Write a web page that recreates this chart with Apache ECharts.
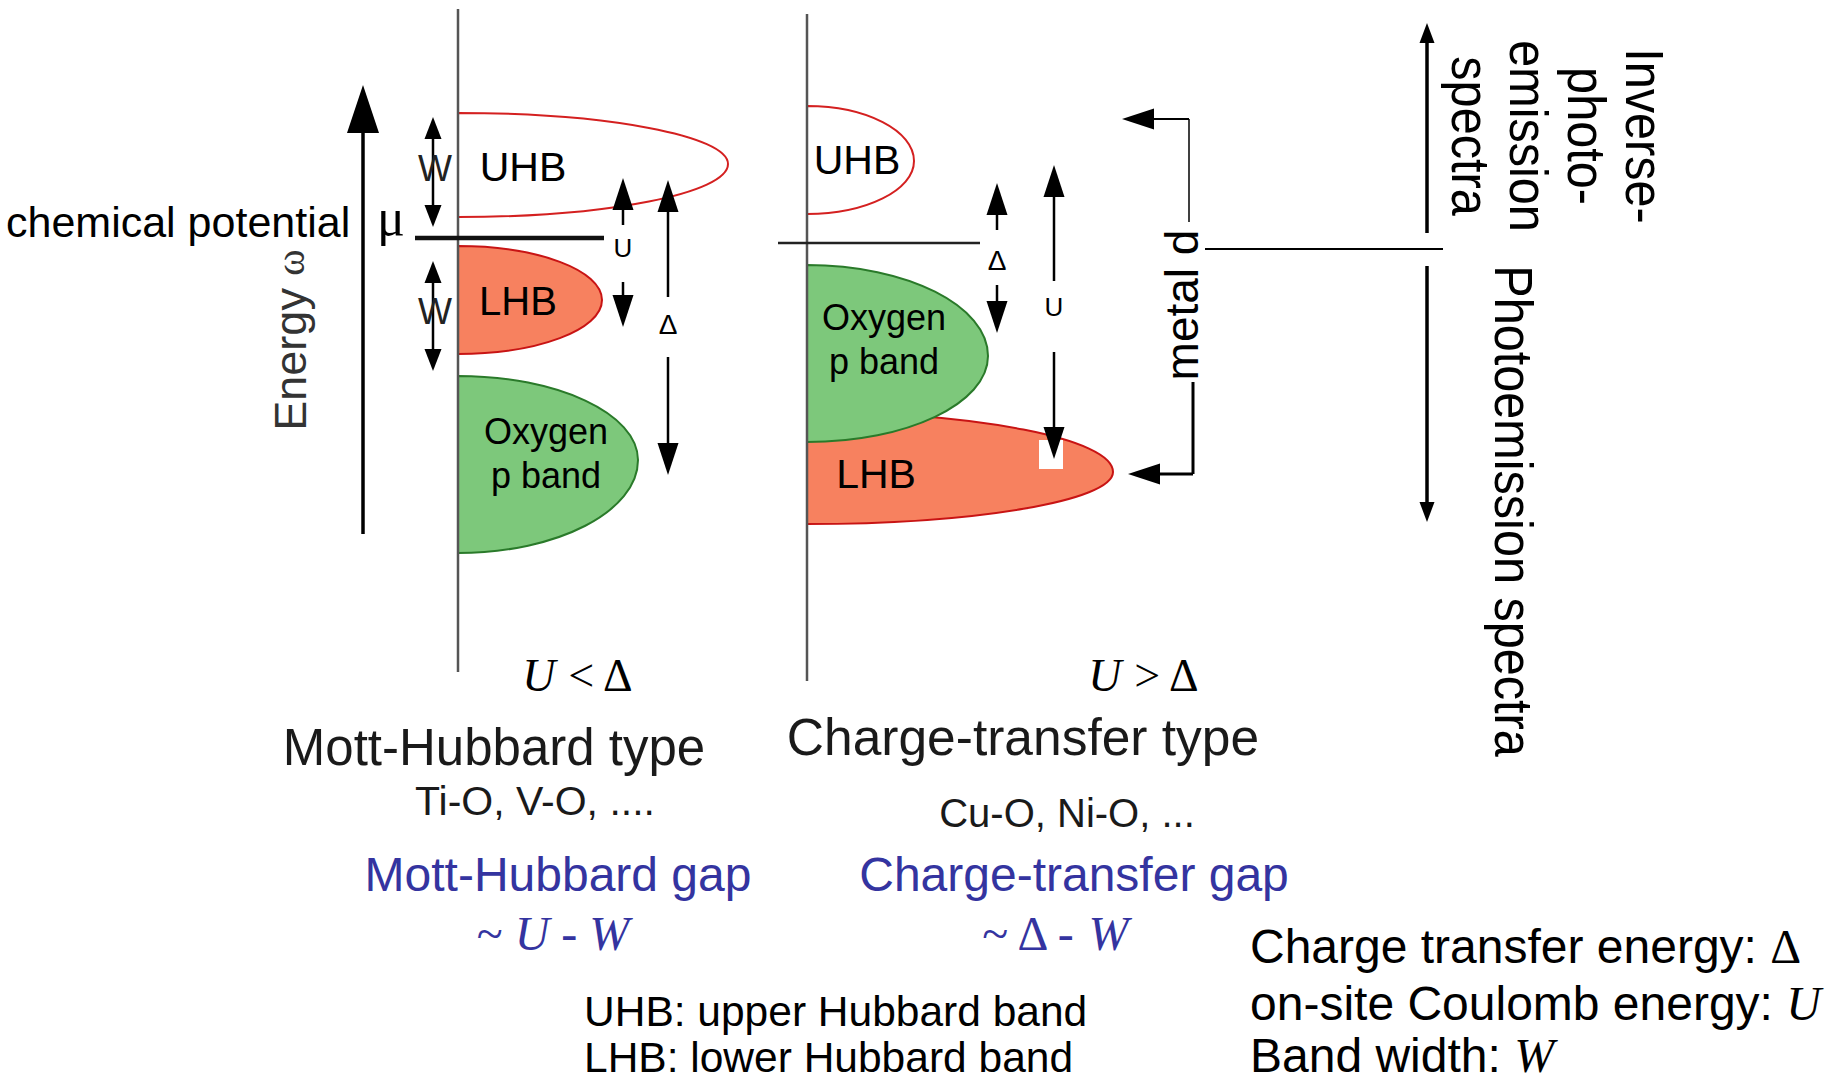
<!DOCTYPE html>
<html><head><meta charset="utf-8">
<script src="https://cdn.jsdelivr.net/npm/echarts@6/dist/echarts.min.js"></script>
<style>html,body{margin:0;padding:0;background:#fff}#c{width:1840px;height:1081px}</style>
</head><body><div id="c"></div>
<script>
// ================= DATA (diagram plane: x = extent, y = energy level, page scale) =================
const panelAxes = [[458, 9, 458, 672], [807, 14, 807, 681]];
const chemPotentialLevels = [[415, 238, 604, 238], [778, 243, 980, 243]];
const bandNames  = ['UHB', 'LHB', 'Oxygen\np band', 'UHB', 'LHB', 'Oxygen\np band'];
const bandKinds  = ['upper', 'lower', 'oxygen', 'upper', 'lower', 'oxygen'];
const bandBase   = [458, 458, 458, 807, 807, 807];
const bandTop    = [113, 246, 376, 106, 412, 265];
const bandBottom = [217, 354, 553, 214, 524, 442];
const bandExtent = [728, 602, 638, 914, 1113, 988];
const bandPeak   = [164, 300, 460, 161, 472, 356];
const energyAxisArrow = [[363, 534, 363, 85]];
const bandWidthArrows = [[433, 117, 433, 227], [433, 261, 433, 371]];
const gapArrows = [
  [623, 225, 623, 178], [623, 282, 623, 327],
  [668, 297, 668, 180], [668, 357, 668, 475],
  [997, 230, 997, 183], [997, 285, 997, 333],
  [1054, 281, 1054, 165], [1054, 352, 1054, 459]
];
const gapSymbols = ['U', 'Δ', 'Δ', 'U'];
const metalDArrowTop = [[1189, 119, 1122, 119]];
const metalDArrowBottom = [[1193, 474, 1128, 474]];
const metalDBracketTop = [[1189, 119, 1189, 222]];
const metalDBracketBottom = [[1193, 382, 1193, 474]];
const spectraArrows = [[1427, 233, 1427, 23], [1427, 266, 1427, 522]];
const spectraDivider = [[1205, 249, 1443, 249]];
const maskPatch = [[1039, 440, 1063, 469]];
const typeTitles = ['Mott-Hubbard type', 'Charge-transfer type'];
const typeExamples = ['Ti-O, V-O, ....', 'Cu-O, Ni-O, ...'];
const gapTitles = ['Mott-Hubbard gap', 'Charge-transfer gap'];
const gapFormulas = ['~ {i|U} - {i|W}', '~ Δ - {i|W}'];
const conditions = ['{i|U} < Δ', '{i|U} > Δ'];
const glossary = ['UHB: upper Hubbard band', 'LHB: lower Hubbard band'];
const definitions = ['Charge transfer energy: {s|Δ}', 'on-site Coulomb energy: {i|U}', 'Band width: {i|W}'];

// ================= STYLE / LAYOUT =================
const SANS = "'Liberation Sans', Arial, sans-serif";
const SERIF = "'Liberation Serif', 'Times New Roman', serif";
const BLUE = '#3434a0';
const bandStyle = {
  upper:  { fill: '#ffffff', stroke: '#d42020', lineWidth: 2 },
  lower:  { fill: '#f7815f', stroke: '#c81414', lineWidth: 2 },
  oxygen: { fill: '#7dc87b', stroke: '#2a7a2a', lineWidth: 2 }
};

function serifRich(size, color) {
  return {
    i: { fontFamily: SERIF, fontStyle: 'italic', fontSize: size, fill: color },
    s: { fontFamily: SERIF, fontSize: size, fill: color }
  };
}

const labels = [
  { t: 'chemical potential', x: 6, y: 222, size: 43, align: 'left' },
  { t: 'μ', x: 391, y: 217, size: 52, family: SERIF },
  { t: 'Energy {w|ω}', x: 290, y: 340, size: 45, rot: Math.PI / 2, color: '#333',
    rich: { w: { fontFamily: SERIF, fontSize: 40, fill: '#333' } } },
  { t: bandNames[0], x: 523, y: 167, size: 41 },
  { t: bandNames[1], x: 518, y: 301, size: 40 },
  { t: bandNames[2], x: 546, y: 453, size: 36, lh: 44 },
  { t: bandNames[3], x: 857, y: 160, size: 41 },
  { t: bandNames[4], x: 876, y: 474, size: 41 },
  { t: bandNames[5], x: 884, y: 339, size: 36, lh: 44 },
  { t: 'W', x: 435, y: 168, size: 36, color: '#222' },
  { t: 'W', x: 435, y: 311, size: 36, color: '#222' },
  { t: gapSymbols[0], x: 623, y: 248, size: 26 },
  { t: gapSymbols[1], x: 668, y: 324, size: 28 },
  { t: gapSymbols[2], x: 997, y: 260, size: 28 },
  { t: gapSymbols[3], x: 1054, y: 307, size: 26 },
  { t: 'metal d', x: 1182, y: 305, size: 46, rot: Math.PI / 2 },
  { t: 'Inverse-\nphoto-\nemission\nspectra', x: 1558, y: 136, size: 54, lh: 58, rot: -Math.PI / 2, sx: 0.9 },
  { t: 'Photoemission spectra', x: 1514, y: 511, size: 54, rot: -Math.PI / 2, sx: 0.9 },
  { t: conditions[0], x: 578, y: 675, size: 46, family: SERIF, rich: serifRich(46, '#000') },
  { t: conditions[1], x: 1144, y: 675, size: 46, family: SERIF, rich: serifRich(46, '#000') },
  { t: typeTitles[0], x: 494, y: 747, size: 51, color: '#1a1a1a' },
  { t: typeExamples[0], x: 535, y: 801, size: 41, color: '#1a1a1a' },
  { t: typeTitles[1], x: 1023, y: 737, size: 51.5, color: '#1a1a1a' },
  { t: typeExamples[1], x: 1067, y: 813, size: 40, color: '#1a1a1a' },
  { t: gapTitles[0], x: 558, y: 874, size: 48, color: BLUE },
  { t: gapFormulas[0], x: 553, y: 933, size: 48, family: SERIF, color: BLUE, rich: serifRich(48, BLUE) },
  { t: gapTitles[1], x: 1074, y: 874, size: 48, color: BLUE },
  { t: gapFormulas[1], x: 1054, y: 933, size: 48, family: SERIF, color: BLUE, rich: serifRich(48, BLUE) },
  { t: glossary[0], x: 584, y: 1011, size: 42.5, align: 'left' },
  { t: glossary[1], x: 584, y: 1057, size: 42.5, align: 'left' },
  { t: definitions[0], x: 1250, y: 946, size: 48, align: 'left', rich: serifRich(48, '#000') },
  { t: definitions[1], x: 1250, y: 1003, size: 48, align: 'left', rich: serifRich(48, '#000') },
  { t: definitions[2], x: 1250, y: 1055, size: 48, align: 'left', rich: serifRich(48, '#000') }
];

// ================= SERIES BUILDERS =================
function segmentSeries(name, data, o) {
  return {
    type: 'custom', name, coordinateSystem: 'cartesian2d', data, clip: false, silent: true,
    renderItem(params, api) {
      const a = api.coord([api.value(0), api.value(1)]);
      const b = api.coord([api.value(2), api.value(3)]);
      const dx = b[0] - a[0], dy = b[1] - a[1];
      const len = Math.hypot(dx, dy) || 1;
      const ux = dx / len, uy = dy / len, nx = -uy, ny = ux;
      const hl = o.hl || 0, hw = o.hw || 0;
      let s = a.slice(), e = b.slice();
      const kids = [];
      const head = (tip, dir) => ({
        type: 'polygon',
        shape: { points: [
          tip,
          [tip[0] - dir * ux * hl + nx * hw / 2, tip[1] - dir * uy * hl + ny * hw / 2],
          [tip[0] - dir * ux * hl - nx * hw / 2, tip[1] - dir * uy * hl - ny * hw / 2]
        ] },
        style: { fill: o.color || '#000' }
      });
      if (o.head === 'end' || o.head === 'both') { e = [b[0] - ux * hl * 0.7, b[1] - uy * hl * 0.7]; kids.push(head(b, 1)); }
      if (o.head === 'both') { s = [a[0] + ux * hl * 0.7, a[1] + uy * hl * 0.7]; kids.push(head(a, -1)); }
      kids.unshift({ type: 'line', shape: { x1: s[0], y1: s[1], x2: e[0], y2: e[1] },
        style: { stroke: o.color || '#000', lineWidth: o.lw || 2 } });
      return { type: 'group', children: kids };
    }
  };
}

const bandData = bandNames.map((n, i) => [bandBase[i], bandTop[i], bandBottom[i], bandExtent[i], bandPeak[i], i]);

const bandSeries = {
  type: 'custom', name: 'bands', coordinateSystem: 'cartesian2d', data: bandData, clip: false, silent: true,
  renderItem(params, api) {
    const i = api.value(5);
    const p0 = api.coord([api.value(0), api.value(1)]);
    const t = api.coord([api.value(3), api.value(4)]);
    const p1 = api.coord([api.value(0), api.value(2)]);
    const k = 0.5523;
    const cx = p0[0] + k * (t[0] - p0[0]);
    const d = 'M' + p0[0] + ' ' + p0[1] +
      ' C' + cx + ' ' + p0[1] + ' ' + t[0] + ' ' + (t[1] - k * (t[1] - p0[1])) + ' ' + t[0] + ' ' + t[1] +
      ' C' + t[0] + ' ' + (t[1] + k * (p1[1] - t[1])) + ' ' + cx + ' ' + p1[1] + ' ' + p1[0] + ' ' + p1[1] + ' Z';
    const st = bandStyle[bandKinds[i]];
    return { type: 'path', shape: { pathData: d }, style: { fill: st.fill, stroke: st.stroke, lineWidth: st.lineWidth } };
  }
};

const maskSeries = {
  type: 'custom', name: 'mask', coordinateSystem: 'cartesian2d', data: maskPatch, clip: false, silent: true,
  renderItem(params, api) {
    const a = api.coord([api.value(0), api.value(1)]);
    const b = api.coord([api.value(2), api.value(3)]);
    return { type: 'rect', shape: { x: a[0], y: a[1], width: b[0] - a[0], height: b[1] - a[1] }, style: { fill: '#fff' } };
  }
};

const labelSeries = {
  type: 'custom', name: 'labels', coordinateSystem: 'cartesian2d', data: labels.map((l, i) => [i]), clip: false, silent: true,
  renderItem(params, api) {
    const L = labels[api.value(0)];
    const p = api.coord([L.x, L.y]);
    return {
      type: 'text', x: p[0], y: p[1], rotation: L.rot || 0, scaleX: L.sx || 1,
      style: {
        text: L.t, fontSize: L.size, fontFamily: L.family || SANS, fill: L.color || '#000',
        align: L.align || 'center', verticalAlign: 'middle', lineHeight: L.lh, rich: L.rich
      }
    };
  }
};

const chart = echarts.init(document.getElementById('c'), null, { renderer: 'svg', width: 1840, height: 1081 });
chart.setOption({
  backgroundColor: '#ffffff',
  animation: false,
  grid: { left: 0, right: 0, top: 0, bottom: 0 },
  xAxis: { type: 'value', min: 0, max: 1840, show: false },
  yAxis: { type: 'value', min: 0, max: 1081, inverse: true, show: false },
  series: [
    bandSeries,
    maskSeries,
    segmentSeries('panel axes', panelAxes, { lw: 2.5, color: '#555' }),
    segmentSeries('chemical potential', [chemPotentialLevels[0]], { lw: 4.5, color: '#111' }),
    segmentSeries('chemical potential CT', [chemPotentialLevels[1]], { lw: 2.5, color: '#222' }),
    segmentSeries('energy axis', energyAxisArrow, { lw: 3.5, head: 'end', hl: 48, hw: 32 }),
    segmentSeries('band width', bandWidthArrows, { lw: 2.5, head: 'both', hl: 22, hw: 17 }),
    segmentSeries('gaps', gapArrows, { lw: 2.5, head: 'end', hl: 32, hw: 21 }),
    segmentSeries('metal d top', metalDArrowTop, { lw: 2, head: 'end', hl: 32, hw: 21 }),
    segmentSeries('metal d bottom', metalDArrowBottom, { lw: 3, head: 'end', hl: 32, hw: 21 }),
    segmentSeries('metal d bracket top', metalDBracketTop, { lw: 1.5 }),
    segmentSeries('metal d bracket bottom', metalDBracketBottom, { lw: 3 }),
    segmentSeries('spectra', spectraArrows, { lw: 3.5, head: 'end', hl: 20, hw: 15 }),
    segmentSeries('divider', spectraDivider, { lw: 2 }),
    labelSeries
  ]
});
</script></body></html>
